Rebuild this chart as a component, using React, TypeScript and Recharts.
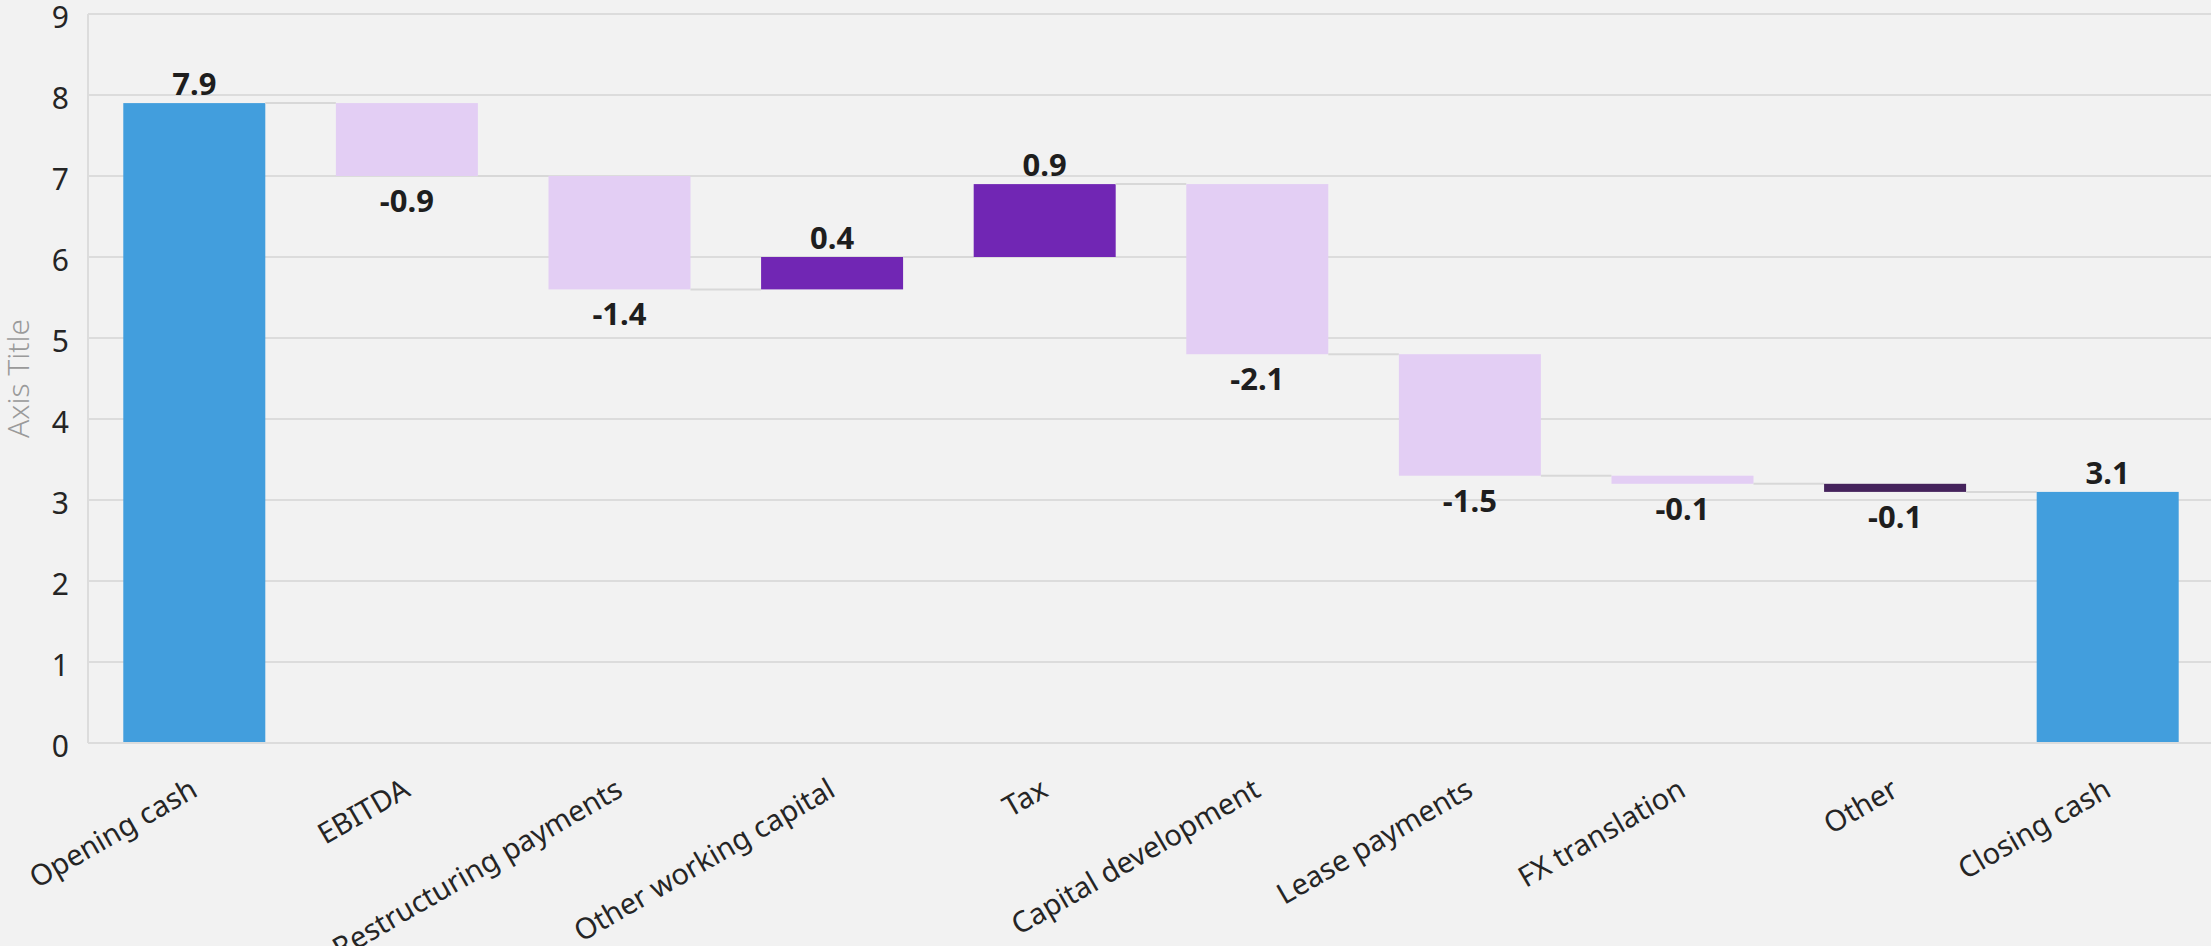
import React from 'react';
import { BarChart, Bar, XAxis, YAxis, CartesianGrid, LabelList } from 'recharts';

// ---- data ----
const categories = [
  'Opening cash',
  'EBITDA',
  'Restructuring payments',
  'Other working capital',
  'Tax',
  'Capital development',
  'Lease payments',
  'FX translation',
  'Other',
  'Closing cash',
];
const amounts = [7.9, -0.9, -1.4, 0.4, 0.9, -2.1, -1.5, -0.1, -0.1, 3.1];
const kinds = ['total', 'delta', 'delta', 'delta', 'delta', 'delta', 'delta', 'delta', 'delta', 'total'];
const yTicks = [0, 1, 2, 3, 4, 5, 6, 7, 8, 9];

// ---- styles ----
const COLOR_TOTAL = '#429EDD';
const COLOR_DOWN = '#E3CEF4';
const COLOR_UP = '#7126B4';
const SPECIAL_COLORS: Record<string, string> = { Other: '#45235C' };
const GAP = 0.166;
const FONT = '"Segoe UI", "Noto Sans", sans-serif';

// build table for recharts
let running = 0;
const rows = categories.map((name, i) => {
  const v = amounts[i];
  if (kinds[i] === 'total') {
    running = v;
    return { name, base: 0, size: v, value: v, dir: 1, kind: 'total' };
  }
  const start = running;
  const end = running + v;
  running = end;
  return { name, base: Math.min(start, end), size: Math.abs(v), value: v, dir: v < 0 ? -1 : 1, kind: 'delta' };
});

const colorFor = (row: any) => {
  if (SPECIAL_COLORS[row.name]) return SPECIAL_COLORS[row.name];
  if (row.kind === 'total') return COLOR_TOTAL;
  return row.value < 0 ? COLOR_DOWN : COLOR_UP;
};

const WaterfallShape = (props: any) => {
  const { x, y, width, height, index } = props;
  const row = rows[index];
  const band = width / (1 - 2 * GAP);
  const endY = row.dir < 0 ? y + height : y;
  const hasNext = index < rows.length - 1;
  return (
    <g>
      <rect x={x} y={y} width={width} height={height} fill={colorFor(row)} />
      {hasNext && (
        <line x1={x + width} x2={x + band} y1={endY} y2={endY} stroke="#d8d8d8" strokeWidth={2} />
      )}
    </g>
  );
};

const ValueLabel = (props: any) => {
  const { x, y, width, height, index } = props;
  const row = rows[index];
  const cx = x + width / 2;
  const ty = row.dir < 0 ? y + height + 36 : y - 8;
  return (
    <text x={cx} y={ty} textAnchor="middle" fontSize={31} fontWeight={700} fill="#1e1e1e" fontFamily={FONT}>
      {row.value.toFixed(1)}
    </text>
  );
};

const CategoryTick = (props: any) => {
  const { x, y, payload } = props;
  const tx = x + 5;
  const ty = y + 50;
  return (
    <text
      x={tx}
      y={ty}
      transform={`rotate(-30, ${tx}, ${ty})`}
      textAnchor="end"
      fontSize={29}
      fill="#252525"
      fontFamily={FONT}
    >
      {payload.value}
    </text>
  );
};

const AxisTitle = (props: any) => {
  const vb = props.viewBox || { x: 0, y: 0, width: 0, height: 0 };
  const tx = vb.x + 17;
  const ty = vb.y + vb.height / 2;
  return (
    <text
      x={tx}
      y={ty}
      transform={`rotate(-90, ${tx}, ${ty})`}
      textAnchor="middle"
      dominantBaseline="central"
      fontSize={30}
      fontWeight={300}
      fill="#9a9a9a"
      fontFamily={FONT}
    >
      Axis Title
    </text>
  );
};

export default function App() {
  return (
    <div style={{ position: 'absolute', left: 0, top: 0, width: 2211, height: 946, background: '#f2f2f2', overflow: 'hidden' }}>
      <BarChart
        width={2211}
        height={946}
        data={rows}
        margin={{ top: 14, right: -3, bottom: 0, left: 0 }}
        barCategoryGap={`${GAP * 100}%`}
        style={{ fontFamily: FONT }}
      >
        <CartesianGrid vertical={false} stroke="#dcdcdc" strokeWidth={2} />
        <XAxis
          dataKey="name"
          interval={0}
          height={203}
          tickLine={false}
          tickSize={0}
          axisLine={{ stroke: '#dcdcdc', strokeWidth: 2 }}
          tick={<CategoryTick />}
        />
        <YAxis
          width={88}
          domain={[0, 9]}
          ticks={yTicks}
          interval={0}
          tickLine={false}
          tickSize={0}
          tickMargin={19}
          axisLine={{ stroke: '#dcdcdc', strokeWidth: 2 }}
          tick={{ fontSize: 30, fill: '#252525', fontFamily: FONT, dy: 3 }}
          label={<AxisTitle />}
        />
        <Bar dataKey="base" stackId="w" fill="transparent" isAnimationActive={false} />
        <Bar dataKey="size" stackId="w" shape={<WaterfallShape />} isAnimationActive={false}>
          <LabelList dataKey="size" content={<ValueLabel />} />
        </Bar>
      </BarChart>
    </div>
  );
}
